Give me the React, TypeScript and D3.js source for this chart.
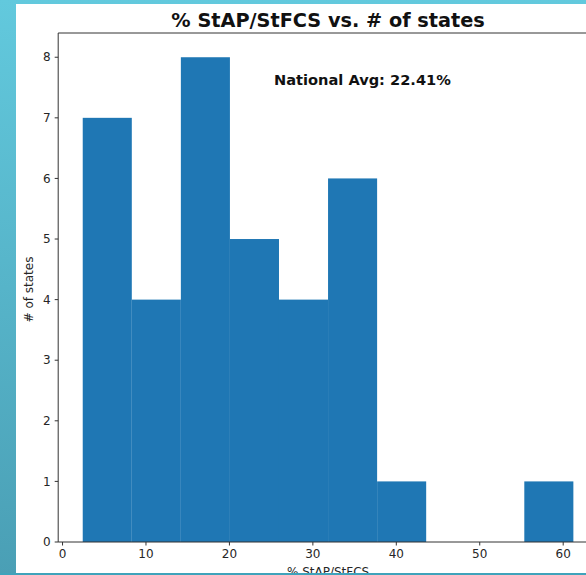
import React, { useEffect, useRef } from "react";
import * as d3 from "d3";

const binEdges = [2.42, 8.3, 14.18, 20.06, 25.94, 31.82, 37.7, 43.58, 49.46, 55.34, 61.22];
const counts = [7, 4, 8, 5, 4, 6, 1, 0, 0, 1];
const xTicks = [0, 10, 20, 30, 40, 50, 60];
const yTicks = [0, 1, 2, 3, 4, 5, 6, 7, 8];
const titleText = "% StAP/StFCS vs. # of states";
const annotation = "National Avg: 22.41%";
const xLabel = "% StAP/StFCS";
const yLabel = "# of states";

const W = 586;
const H = 575;

export default function App() {
  const ref = useRef<SVGSVGElement | null>(null);
  useEffect(() => {
    const svg = d3.select(ref.current);
    svg.selectAll("*").remove();

    const defs = svg.append("defs");
    const g = defs.append("linearGradient").attr("id", "bg").attr("x1", 0).attr("y1", 0).attr("x2", 0).attr("y2", 1);
    g.append("stop").attr("offset", "0%").attr("stop-color", "#62c9dd");
    g.append("stop").attr("offset", "100%").attr("stop-color", "#4a9fb5");

    svg.append("rect").attr("width", W).attr("height", H).attr("fill", "url(#bg)");
    svg.append("rect").attr("x", 16).attr("y", 4).attr("width", W - 16).attr("height", 569).attr("fill", "#ffffff");

    const lo = binEdges[0];
    const hi = binEdges[binEdges.length - 1];
    const pad = (hi - lo) * 0.05;
    const x = d3.scaleLinear().domain([lo - pad, hi + pad]).range([58.2, 597.9]);
    const yMax = (d3.max(counts) as number) * 1.05;
    const y = d3.scaleLinear().domain([0, yMax]).range([542, 33]);

    const bins = counts.map((c, i) => ({ x0: binEdges[i], x1: binEdges[i + 1], c }));
    svg
      .append("g")
      .selectAll("rect")
      .data(bins.filter((b) => b.c > 0))
      .join("rect")
      .attr("x", (d) => x(d.x0))
      .attr("y", (d) => y(d.c))
      .attr("width", (d) => x(d.x1) - x(d.x0))
      .attr("height", (d) => y(0) - y(d.c))
      .attr("fill", "#1f77b4");

    const font = "'DejaVu Sans', sans-serif";
    const ax = svg.append("g").attr("stroke", "#333").attr("stroke-width", 1).attr("fill", "none");
    ax.append("line").attr("x1", x.range()[0]).attr("x2", x.range()[0]).attr("y1", y.range()[1]).attr("y2", y.range()[0]);
    ax.append("line").attr("x1", x.range()[0]).attr("x2", x.range()[1]).attr("y1", y.range()[0]).attr("y2", y.range()[0]);
    ax.append("line").attr("x1", x.range()[0]).attr("x2", x.range()[1]).attr("y1", y.range()[1]).attr("y2", y.range()[1]);
    ax.append("line").attr("x1", x.range()[1]).attr("x2", x.range()[1]).attr("y1", y.range()[1]).attr("y2", y.range()[0]);

    yTicks.forEach((t) => {
      ax.append("line").attr("x1", x.range()[0] - 3.5).attr("x2", x.range()[0]).attr("y1", y(t)).attr("y2", y(t));
      svg
        .append("text")
        .attr("x", x.range()[0] - 7.5)
        .attr("y", y(t))
        .attr("dy", "0.35em")
        .attr("text-anchor", "end")
        .attr("font-family", font)
        .attr("font-size", 12)
        .attr("fill", "#262626")
        .text(String(t));
    });
    xTicks.forEach((t) => {
      ax.append("line").attr("x1", x(t)).attr("x2", x(t)).attr("y1", y.range()[0]).attr("y2", y.range()[0] + 3.5);
      svg
        .append("text")
        .attr("x", x(t))
        .attr("y", 558)
        .attr("text-anchor", "middle")
        .attr("font-family", font)
        .attr("font-size", 12)
        .attr("fill", "#262626")
        .text(String(t));
    });

    const cx = (x.range()[0] + x.range()[1]) / 2;
    svg
      .append("text")
      .attr("x", cx)
      .attr("y", 26.5)
      .attr("text-anchor", "middle")
      .attr("font-family", font)
      .attr("font-weight", "bold")
      .attr("font-size", 19.3)
      .attr("fill", "#111")
      .text(titleText);

    svg
      .append("text")
      .attr("x", 274)
      .attr("y", 85)
      .attr("font-family", font)
      .attr("font-weight", "bold")
      .attr("font-size", 14.6)
      .attr("fill", "#111")
      .text(annotation);

    svg
      .append("text")
      .attr("x", cx)
      .attr("y", 576)
      .attr("text-anchor", "middle")
      .attr("font-family", font)
      .attr("font-size", 12)
      .attr("fill", "#262626")
      .text(xLabel);

    const cy = (y.range()[0] + y.range()[1]) / 2;
    svg
      .append("text")
      .attr("transform", `translate(33,${cy + 2}) rotate(-90)`)
      .attr("text-anchor", "middle")
      .attr("font-family", font)
      .attr("font-size", 12)
      .attr("fill", "#262626")
      .text(yLabel);

    svg.append("rect").attr("x", 0).attr("y", 573).attr("width", W).attr("height", 2).attr("fill", "#3fa3bb");
  }, []);

  return (
    <svg
      ref={ref}
      width={W}
      height={H}
      style={{ position: "fixed", left: 0, top: 0, display: "block" }}
    />
  );
}
